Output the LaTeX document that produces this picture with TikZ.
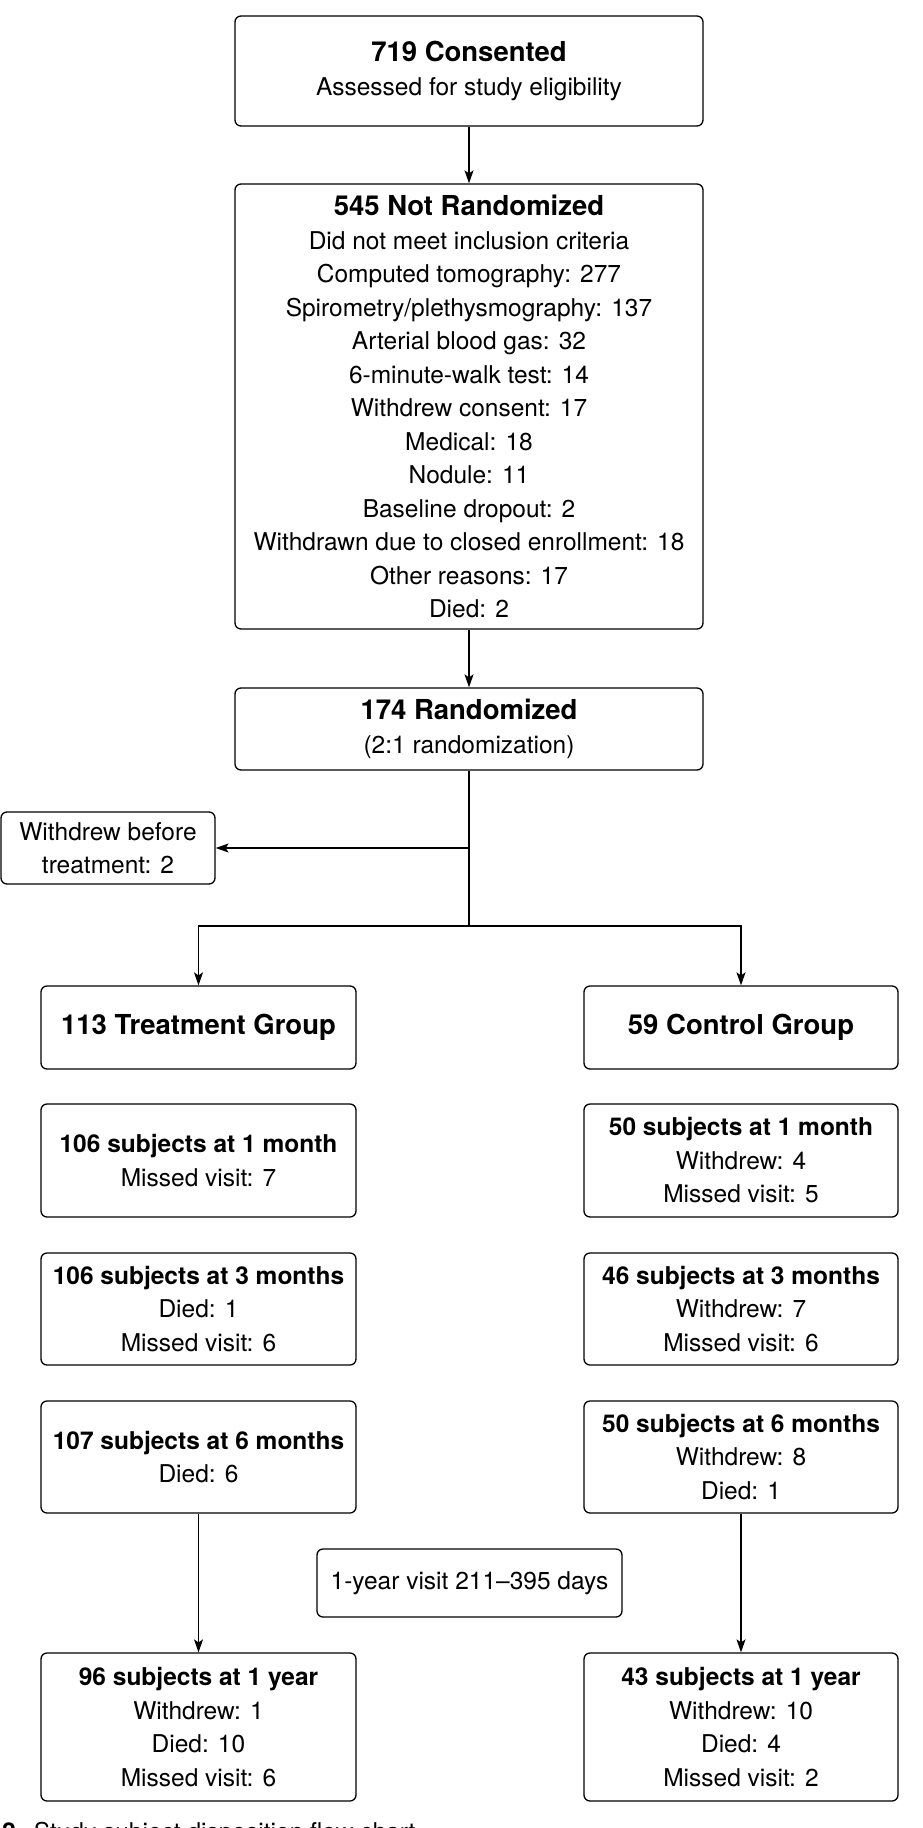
\documentclass[tikz,border=0pt]{standalone}
\usepackage{fontspec}
\setmainfont{TeX Gyre Heros}
\usetikzlibrary{arrows.meta}
\tikzset{
  box/.style={draw, line width=1.3pt, rounded corners=6pt, inner sep=0pt, align=center,
    font=\fontsize{24.5}{33.5}\selectfont},
  arr/.style={line width=1.3pt, -{Stealth[length=13pt,width=9pt,inset=3pt]}},
  ln/.style={line width=1.3pt},
}
\newcommand{\bigt}[1]{{\fontsize{27.5}{33.5}\selectfont\bfseries #1}}
\newcommand{\smt}[1]{{\bfseries #1}}
\begin{document}
\begin{tikzpicture}[x=1pt,y=-1pt]
\useasboundingbox (0,0) rectangle (922,1828);
\node[box, minimum width=468pt, minimum height=110pt] (A) at (469,71)
  {\bigt{719 Consented}\\Assessed for study eligibility};
\node[box, minimum width=468pt, minimum height=445pt] (B) at (469,406.5)
  {\bigt{545 Not Randomized}\\Did not meet inclusion criteria\\Computed tomography: 277\\
   Spirometry/plethysmography: 137\\Arterial blood gas: 32\\6-minute-walk test: 14\\
   Withdrew consent: 17\\Medical: 18\\Nodule: 11\\Baseline dropout: 2\\
   Withdrawn due to closed enrollment: 18\\Other reasons: 17\\Died: 2};
\node[box, minimum width=468pt, minimum height=82pt] (C) at (469,729)
  {\bigt{174 Randomized}\\(2:1 randomization)};
\node[box, minimum width=214pt, minimum height=72pt] (W) at (108,848)
  {Withdrew before\\treatment: 2};
\node[box, minimum width=315pt, minimum height=83pt] (T) at (198.5,1027.5)
  {\bigt{113 Treatment Group}};
\node[box, minimum width=314pt, minimum height=83pt] (K) at (741,1027.5)
  {\bigt{59 Control Group}};
\node[box, minimum width=315pt, minimum height=113pt] (T1) at (198.5,1160.5)
  {\smt{106 subjects at 1 month}\\Missed visit: 7};
\node[box, minimum width=314pt, minimum height=113pt] (K1) at (741,1160.5)
  {\smt{50 subjects at 1 month}\\Withdrew: 4\\Missed visit: 5};
\node[box, minimum width=315pt, minimum height=112pt] (T3) at (198.5,1309)
  {\smt{106 subjects at 3 months}\\Died: 1\\Missed visit: 6};
\node[box, minimum width=314pt, minimum height=112pt] (K3) at (741,1309)
  {\smt{46 subjects at 3 months}\\Withdrew: 7\\Missed visit: 6};
\node[box, minimum width=315pt, minimum height=112pt] (T6) at (198.5,1457)
  {\smt{107 subjects at 6 months}\\Died: 6};
\node[box, minimum width=314pt, minimum height=112pt] (K6) at (741,1457)
  {\smt{50 subjects at 6 months}\\Withdrew: 8\\Died: 1};
\node[box, minimum width=305pt, minimum height=68pt] (V) at (469.5,1583)
  {1-year visit 211--395 days};
\node[box, minimum width=315pt, minimum height=148pt] (T12) at (198.5,1727)
  {\smt{96 subjects at 1 year}\\Withdrew: 1\\Died: 10\\Missed visit: 6};
\node[box, minimum width=314pt, minimum height=148pt] (K12) at (741,1727)
  {\smt{43 subjects at 1 year}\\Withdrew: 10\\Died: 4\\Missed visit: 2};
\node[anchor=base west, inner sep=0pt, font=\fontsize{24.5}{30}\selectfont] (cap) at (2,1840)
  {\textbf{2}\hspace{18pt}Study subject disposition flow chart};
\draw[arr] (A) -- (B);
\draw[arr] (B) -- (C);
\coordinate (J) at (469,926);
\coordinate (Wj) at (469,848);
\draw[ln] (C.south) -- (J);
\draw[arr] (Wj) -- (W.east);
\draw[arr] (J) -| (T.north);
\draw[arr] (J) -| (K.north);
\draw[arr] (T6) -- (T12);
\draw[arr] (K6) -- (K12);
\end{tikzpicture}
\end{document}
